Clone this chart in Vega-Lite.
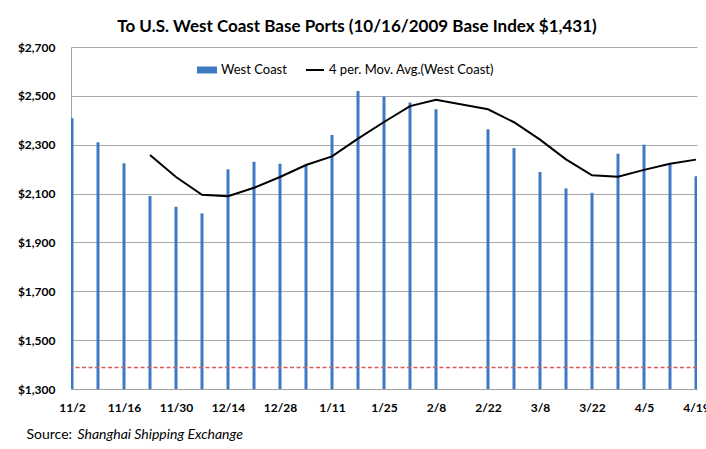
{
  "$schema": "https://vega.github.io/schema/vega-lite/v6.json",
  "width": 626,
  "height": 342,
  "autosize": {"type": "none"},
  "padding": {"left": 71, "top": 47, "right": 9, "bottom": 60},
  "background": "white",
  "config": {"view": {"stroke": null}, "font": "Lato"},
  "title": {"text": "To U.S. West Coast Base Ports (10/16/2009 Base Index $1,431)", "font": "Lato", "fontSize": 17, "fontWeight": "bold", "color": "black", "anchor": "middle", "frame": "group", "dx": -27, "offset": 5},
  "datasets": {
    "weekly": [
      {"week": "11/2", "rate": 2408},
      {"week": "11/9", "rate": 2310},
      {"week": "11/16", "rate": 2224},
      {"week": "11/23", "rate": 2090},
      {"week": "11/30", "rate": 2046},
      {"week": "12/7", "rate": 2019},
      {"week": "12/14", "rate": 2199},
      {"week": "12/21", "rate": 2230},
      {"week": "12/28", "rate": 2222},
      {"week": "1/4", "rate": 2216},
      {"week": "1/11", "rate": 2340},
      {"week": "1/18", "rate": 2520},
      {"week": "1/25", "rate": 2497},
      {"week": "2/1", "rate": 2473},
      {"week": "2/8", "rate": 2445},
      {"week": "2/22", "rate": 2363},
      {"week": "3/1", "rate": 2286},
      {"week": "3/8", "rate": 2188},
      {"week": "3/15", "rate": 2121},
      {"week": "3/22", "rate": 2103},
      {"week": "3/29", "rate": 2263},
      {"week": "4/5", "rate": 2300},
      {"week": "4/12", "rate": 2220},
      {"week": "4/19", "rate": 2171}
    ],
    "avg": [
      {"week": "11/23", "rate": 2258},
      {"week": "11/30", "rate": 2168},
      {"week": "12/7", "rate": 2095},
      {"week": "12/14", "rate": 2089},
      {"week": "12/21", "rate": 2124},
      {"week": "12/28", "rate": 2168},
      {"week": "1/4", "rate": 2217},
      {"week": "1/11", "rate": 2252},
      {"week": "1/18", "rate": 2325},
      {"week": "1/25", "rate": 2393},
      {"week": "2/1", "rate": 2458},
      {"week": "2/8", "rate": 2484},
      {"week": "2/22", "rate": 2445},
      {"week": "3/1", "rate": 2392},
      {"week": "3/8", "rate": 2321},
      {"week": "3/15", "rate": 2240},
      {"week": "3/22", "rate": 2175},
      {"week": "3/29", "rate": 2169},
      {"week": "4/5", "rate": 2197},
      {"week": "4/12", "rate": 2222},
      {"week": "4/19", "rate": 2239}
    ],
    "base": [{"rate": 1388}]
  },
  "layer": [
    {
      "data": {"name": "weekly"},
      "mark": {"type": "bar", "size": 3, "clip": true},
      "encoding": {
        "x": {
          "field": "week", "type": "ordinal",
          "scale": {"type": "point", "padding": 0.0385, "domain": ["11/2","11/9","11/16","11/23","11/30","12/7","12/14","12/21","12/28","1/4","1/11","1/18","1/25","2/1","2/8","2/15","2/22","3/1","3/8","3/15","3/22","3/29","4/5","4/12","4/19"]},
          "axis": {
            "values": ["11/2","11/16","11/30","12/14","12/28","1/11","1/25","2/8","2/22","3/8","3/22","4/5","4/19"],
            "labelAngle": 0, "labelFont": "Lato", "labelFontSize": 12, "labelFontWeight": "bold", "labelColor": "black",
            "labelPadding": 13, "ticks": false, "domainColor": "#a0a0a0", "grid": false, "labelFlush": false, "labelOverlap": false,
            "title": "Shanghai Shipping Exchange", "titleFont": "Lato", "titleFontSize": 14, "titleFontWeight": "normal", "titleFontStyle": "italic", "titleColor": "black",
            "titleX": 6, "titleY": 45, "titleAlign": "left", "titleBaseline": "middle"
          }
        },
        "y": {
          "field": "rate", "type": "quantitative",
          "scale": {"domain": [1300, 2700], "nice": false, "zero": false},
          "axis": {
            "values": [1300,1500,1700,1900,2100,2300,2500,2700], "format": "$,d",
            "labelFont": "Lato", "labelFontSize": 12, "labelFontWeight": "bold", "labelColor": "black", "labelPadding": 16,
            "ticks": false, "domainColor": "#a0a0a0", "gridColor": "#a8a8a8", "grid": true,
            "title": "Source:", "titleFont": "Lato", "titleFontSize": 14, "titleFontWeight": "normal", "titleColor": "black",
            "titleAngle": 0, "titleX": -45, "titleY": 387, "titleAlign": "left", "titleBaseline": "middle"
          }
        },
        "y2": {"datum": 1300},
        "fill": {
          "datum": "West Coast",
          "scale": {"range": ["#3f79c2"]},
          "legend": {"orient": "none", "legendX": 126, "legendY": 13, "title": null, "padding": 0,
            "symbolType": "M-1,-0.35H1V0.35H-1Z", "symbolSize": 400, "symbolStrokeWidth": 0,
            "labelFont": "Lato", "labelFontSize": 13, "labelColor": "black", "labelOffset": 4, "labelLimit": 400}
        }
      }
    },
    {
      "data": {"name": "base"},
      "mark": {"type": "rule", "color": "#d25f5a", "strokeDash": [4, 2.5], "strokeWidth": 1.6},
      "encoding": {"y": {"field": "rate", "type": "quantitative"}}
    },
    {
      "data": {"name": "avg"},
      "mark": {"type": "line", "strokeWidth": 2},
      "encoding": {
        "x": {"field": "week", "type": "ordinal"},
        "y": {"field": "rate", "type": "quantitative"},
        "stroke": {
          "datum": "4 per. Mov. Avg.(West Coast)",
          "scale": {"range": ["black"]},
          "legend": {"orient": "none", "legendX": 234, "legendY": 13, "title": null, "padding": 0,
            "symbolType": "stroke", "symbolSize": 324, "symbolStrokeWidth": 2,
            "labelFont": "Lato", "labelFontSize": 13, "labelColor": "black", "labelOffset": 4, "labelLimit": 400}
        }
      }
    }
  ]
}
